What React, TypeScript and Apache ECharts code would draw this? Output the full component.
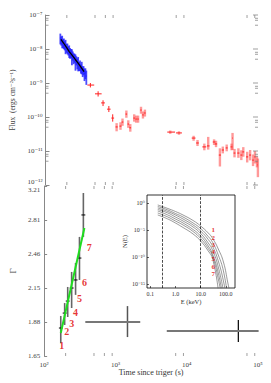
import React, { useEffect, useRef } from "react";
import * as echarts from "echarts";

const SERIF = "'Liberation Serif', 'DejaVu Serif', serif";

// ---------- top panel: flux light curve ----------
const fluxMinorTicks = [5e-8, 7e-8, 8e-8, 5e-9, 7e-9, 8e-9, 5e-10, 7e-10, 8e-10, 5e-11, 7e-11, 8e-11, 5e-12, 7e-12, 8e-12];
const fluxMajorTicks = [1e-7, 1e-8, 1e-9, 1e-10, 1e-11, 1e-12];
const timeMinorTicks = [200, 500, 700, 900, 7000, 9000, 70000, 90000];

const batTime = [162, 167, 172, 177, 182, 187, 192, 198, 204, 210, 216, 222, 229, 236, 243, 250, 257, 265, 273, 281, 289, 298, 307, 316, 325, 335, 345, 355, 366, 377];
const batFlux = [2.1e-8, 1.8e-8, 1.75e-8, 1.5e-8, 1.5e-8, 1.3e-8, 1.28e-8, 1.1e-8, 1.07e-8, 9.2e-9, 9.1e-9, 7.9e-9, 7.7e-9, 6.6e-9, 6.5e-9, 5.5e-9, 5.6e-9, 4.6e-9, 4.7e-9, 3.9e-9, 4.0e-9, 3.2e-9, 3.4e-9, 2.7e-9, 3.0e-9, 2.3e-9, 2.4e-9, 1.9e-9, 2.0e-9, 1.6e-9];
const batErr = [0.35, 0.3, 0.4, 0.3, 0.35, 0.3, 0.45, 0.3, 0.35, 0.3, 0.4, 0.35, 0.3, 0.5, 0.3, 0.35, 0.3, 0.5, 0.3, 0.35, 0.45, 0.3, 0.35, 0.3, 0.4, 0.35, 0.3, 0.4, 0.35, 0.45];
const batModelTime = [165, 182, 200, 216, 240, 262, 290, 318, 350];
const batModelFlux = [1.92e-8, 1.45e-8, 1.08e-8, 8.4e-9, 6.4e-9, 5.0e-9, 3.8e-9, 2.9e-9, 2.15e-9];

const xrtTime = [430, 553, 649, 784, 889, 1009, 1145, 1222, 1386, 1476, 1574, 1786, 1903, 2028, 2230, 2376, 2531, 5770, 7660, 12330, 14000, 17470, 19820, 24000, 25550, 29000, 31860, 36150, 42350, 43700, 46600, 52870, 58170, 61990, 70340, 77380, 85100, 90600, 96600, 99700];
const xrtTimeMin = [390, 500, 610, 740, 850, 975, 1110, 1190, 1350, 1440, 1530, 1740, 1860, 1980, 2180, 2320, 2470, 5240, 6970, 11600, 13400, 16400, 19000, 23000, 24600, 28000, 30800, 35000, 41000, 43200, 45200, 51000, 56500, 60200, 68000, 75000, 82600, 88500, 94500, 98500];
const xrtTimeMax = [487, 620, 690, 830, 930, 1045, 1180, 1255, 1420, 1510, 1615, 1830, 1950, 2075, 2280, 2430, 2590, 6745, 8430, 13100, 14600, 18600, 20700, 25000, 26500, 30000, 33000, 37300, 43700, 44200, 48000, 54700, 60000, 63800, 72700, 79800, 87500, 92700, 98500, 100000];
const xrtFlux = [8.7e-10, 4.8e-10, 2.6e-10, 1.7e-10, 9.3e-11, 5.1e-11, 5.4e-11, 7.1e-11, 1.22e-10, 6.2e-11, 4.8e-11, 9.3e-11, 8.7e-11, 8.7e-11, 1.6e-10, 1.15e-10, 1.31e-10, 3.6e-11, 3.4e-11, 2.4e-11, 1.72e-11, 1.32e-11, 1.41e-11, 1.84e-11, 1.61e-11, 7.6e-12, 1.07e-11, 1.23e-11, 1.32e-11, 2.4e-11, 8.7e-12, 8.7e-12, 7.6e-12, 9.4e-12, 6.7e-12, 7.6e-12, 5.4e-12, 6.7e-12, 4.8e-12, 3.9e-12];
const xrtFluxMin = [7.4e-10, 4.0e-10, 2.1e-10, 1.4e-10, 7.3e-11, 3.8e-11, 4.2e-11, 5.5e-11, 9.5e-11, 4.8e-11, 3.7e-11, 7.3e-11, 6.8e-11, 6.8e-11, 1.25e-10, 9.0e-11, 1.03e-10, 3.2e-11, 3.0e-11, 2.0e-11, 1.4e-11, 1.05e-11, 1.1e-11, 1.5e-11, 1.3e-11, 3.5e-12, 8.5e-12, 9.8e-12, 1.05e-11, 1.07e-11, 6.5e-12, 6.3e-12, 5.4e-12, 6.8e-12, 4.6e-12, 5.3e-12, 3.6e-12, 4.3e-12, 3.3e-12, 1.7e-12];
const xrtFluxMax = [1.0e-9, 5.7e-10, 3.1e-10, 2.1e-10, 1.2e-10, 6.6e-11, 7.0e-11, 9.0e-11, 1.55e-10, 8.0e-11, 6.2e-11, 1.2e-10, 1.1e-10, 1.1e-10, 2.0e-10, 1.45e-10, 1.65e-10, 4.0e-11, 3.8e-11, 2.8e-11, 2.1e-11, 1.65e-11, 2.6e-11, 2.2e-11, 2.0e-11, 1.2e-11, 1.35e-11, 1.55e-11, 1.65e-11, 3.4e-11, 1.15e-11, 1.2e-11, 1.05e-11, 1.3e-11, 9.5e-12, 1.07e-11, 7.9e-12, 1.0e-11, 7.0e-12, 6.0e-12];

// ---------- bottom panel: photon index ----------
const gammaTickLabels = ["1.65", "1.88", "2.15", "2.46", "2.81", "3.21"];
const gammaTime = [171, 194, 214, 243, 276, 313, 355];
const gammaTimeMin = [161, 182, 201, 228, 259, 294, 333];
const gammaTimeMax = [182, 207, 228, 259, 294, 333, 378];
const gammaValue = [1.841, 1.952, 2.046, 2.153, 2.222, 2.421, 2.866];
const gammaLow = [1.736, 1.863, 1.922, 1.991, 2.096, 2.222, 2.63];
const gammaHigh = [1.93, 2.03, 2.162, 2.293, 2.375, 2.63, 3.123];
const gammaLabelNames = ["1", "2", "3", "4", "5", "6", "7"];
const gammaLabelTime = [177, 207, 243, 276, 313, 367, 430];
const gammaLabelValue = [1.716, 1.813, 1.877, 1.96, 2.063, 2.204, 2.527];
const crossTime = [1476, 52970];
const crossTimeMin = [378, 5250];
const crossTimeMax = [2228, 102000];
const crossGamma = [1.885, 1.82];
const crossGammaLow = [1.777, 1.743];
const crossGammaHigh = [2.006, 1.9];
const fitTime = [171, 367];
const fitGamma = [1.806, 2.723];

// ---------- inset: spectra ----------
const specEnergy = [0.2, 0.5, 1, 2, 5, 10, 20, 30, 50, 80, 120, 150];
const specN1 = [0.427, 0.0957, 0.0267, 6.0e-3, 5.74e-4, 5.51e-5, 2.78e-6, 2.67e-7, 3.03e-9, 1.19e-11, 1.53e-15, 9.1e-18];
const specN2 = [0.225, 0.0506, 0.0114, 2.55e-3, 1.98e-4, 1.9e-5, 6.25e-7, 4.84e-8, 2.35e-10, 2.55e-13, 2.6e-18];
const specN3 = [0.119, 0.0267, 6.0e-3, 1.09e-3, 8.43e-5, 6.53e-6, 1.74e-7, 8.8e-9, 1.82e-11, 3.6e-15, 1.3e-19];
const specN4 = [0.0625, 0.01406, 2.55e-3, 4.64e-4, 3.59e-5, 2.25e-6, 3.92e-8, 1.6e-9, 1.41e-12, 5.06e-17];
const specN5 = [0.033, 6.0e-3, 1.09e-3, 1.98e-4, 1.24e-5, 7.74e-7, 1.09e-8, 2.9e-10, 1.09e-13, 1.1e-18];
const specN6 = [0.01406, 2.55e-3, 4.64e-4, 8.43e-5, 5.27e-6, 2.67e-7, 3.75e-9, 1.24e-10, 8.43e-15, 1.3e-19];
const specN7 = [6.0e-3, 1.09e-3, 1.98e-4, 2.9e-5, 1.82e-6, 9.2e-8, 1.29e-9, 4.27e-11, 7.7e-17];
const specLabelEnergy = [31.6, 31.6, 31.6, 31.6, 31.6, 31.6, 31.6];
const specLabelN = [1e-5, 3.3e-7, 1.66e-8, 8.5e-10, 4.3e-11, 1.4e-12, 7.1e-14];
const xrtBandEdges = [0.3, 10];

// ---------- helpers ----------
const SUP: Record<string, string> = { "-": "\u207B", "0": "\u2070", "1": "\u00B9", "2": "\u00B2", "3": "\u00B3", "4": "\u2074", "5": "\u2075", "6": "\u2076", "7": "\u2077", "8": "\u2078", "9": "\u2079" };
const pow10 = (v: number) => "10" + String(Math.round(Math.log10(v))).split("").map((c) => SUP[c] ?? c).join("");

const G0 = parseFloat(gammaTickLabels[0]);
const GSTEP = Math.log10(parseFloat(gammaTickLabels[gammaTickLabels.length - 1]) / G0) / (gammaTickLabels.length - 1);
const gy = (g: number) => Math.log10(g / G0) / GSTEP;

type St = { v: string; vw: number; h: string; hw: number };
function errorBars(rows: number[][], xi: number, yi: number, styleFor: (x: number) => St, z = 3) {
  return {
    type: "custom",
    xAxisIndex: xi,
    yAxisIndex: yi,
    clip: false,
    z,
    silent: true,
    encode: { x: 0, y: 3 },
    data: rows,
    renderItem: (_p: any, api: any) => {
      const x = api.value(0);
      const y = api.value(3);
      const a = api.coord([x, api.value(4)]);
      const b = api.coord([x, api.value(5)]);
      const c = api.coord([api.value(1), y]);
      const d = api.coord([api.value(2), y]);
      const s = styleFor(x);
      return {
        type: "group",
        children: [
          { type: "line", shape: { x1: a[0], y1: a[1], x2: b[0], y2: b[1] }, style: { stroke: s.v, lineWidth: s.vw } },
          { type: "line", shape: { x1: c[0], y1: c[1], x2: d[0], y2: d[1] }, style: { stroke: s.h, lineWidth: s.hw } },
        ],
      };
    },
  };
}

function tickMarks(points: number[][], xi: number, yi: number, size: number[], offset: number[]) {
  return {
    type: "scatter",
    xAxisIndex: xi,
    yAxisIndex: yi,
    data: points,
    symbol: "rect",
    symbolSize: size,
    symbolOffset: offset,
    itemStyle: { color: "#888" },
    silent: true,
    clip: false,
    z: 4,
  };
}

const labelText = { fontFamily: SERIF, fontSize: 7, color: "#444" };

export default function App() {
  const ref = useRef<HTMLDivElement>(null);
  useEffect(() => {
    if (!ref.current) return;
    const chart = echarts.init(ref.current, null, { renderer: "svg" });

    const batRows = batTime.map((t, i) => [t, t * 0.987, t * 1.013, batFlux[i], batFlux[i] * (1 - batErr[i]), batFlux[i] * (1 + batErr[i])]);
    const xrtRows = xrtTime.map((t, i) => [t, xrtTimeMin[i], xrtTimeMax[i], xrtFlux[i], xrtFluxMin[i], xrtFluxMax[i]]);
    const gammaRows = gammaTime.map((t, i) => [t, gammaTimeMin[i], gammaTimeMax[i], gy(gammaValue[i]), gy(gammaLow[i]), gy(gammaHigh[i])]);
    const crossRows = crossTime.map((t, i) => [t, crossTimeMin[i], crossTimeMax[i], gy(crossGamma[i]), gy(crossGammaLow[i]), gy(crossGammaHigh[i])]);
    const specs = [specN1, specN2, specN3, specN4, specN5, specN6, specN7];
    const lastGamma = gammaTickLabels.length - 1;

    const option: any = {
      animation: false,
      backgroundColor: "#fff",
      grid: [
        { left: 40, top: 15, width: 218, height: 170 },
        { left: 40, top: 186, width: 218, height: 170 },
        { left: 147, top: 195, width: 88, height: 93, show: true, borderColor: "#000", borderWidth: 0.8, backgroundColor: "#fff" },
      ],
      xAxis: [
        { gridIndex: 0, type: "log", min: 100, max: 100000, axisLine: { show: false }, axisTick: { show: false }, axisLabel: { show: false }, splitLine: { show: false } },
        {
          gridIndex: 1, type: "log", min: 100, max: 100000,
          axisLine: { show: false }, axisTick: { show: false }, splitLine: { show: false },
          axisLabel: { ...labelText, formatter: pow10, margin: 5 },
          name: "Time since triger (s)", nameLocation: "middle", nameGap: 12,
          nameTextStyle: { fontFamily: SERIF, fontSize: 8, color: "#333" },
        },
        {
          gridIndex: 2, type: "log", min: 0.075, max: 230,
          axisLine: { show: false }, splitLine: { show: false },
          axisTick: { inside: true, length: 2, lineStyle: { color: "#000", width: 0.6 } },
          axisLabel: { fontFamily: SERIF, fontSize: 6, color: "#333", margin: 3, showMinLabel: false, showMaxLabel: false, formatter: (v: number) => v.toFixed(1) },
          name: "E (keV)", nameLocation: "middle", nameGap: 10,
          nameTextStyle: { fontFamily: SERIF, fontSize: 6.5, color: "#333" },
        },
      ],
      yAxis: [
        {
          gridIndex: 0, type: "log", min: 1e-12, max: 1e-7,
          axisLine: { show: true, lineStyle: { color: "#888" } },
          axisTick: { inside: true, length: 4, lineStyle: { color: "#888" } },
          axisLabel: {
            ...labelText, margin: 3,
            formatter: (v: number) => (Math.round(Math.log10(v)) === -12 ? "{lo|" + pow10(v) + "}" : pow10(v)),
            rich: { lo: { fontFamily: SERIF, fontSize: 7, color: "#444", padding: [0, 0, 7, 0] } },
          },
          splitLine: { show: false },
          name: "Flux  (ergs cm\u207B\u00B2s\u207B\u00B9)", nameLocation: "middle", nameGap: 25,
          nameTextStyle: { fontFamily: SERIF, fontSize: 7.5, color: "#444" },
        },
        {
          gridIndex: 1, type: "value", min: 0, max: 5, interval: 1,
          axisLine: { show: true, lineStyle: { color: "#888" } },
          axisTick: { inside: true, length: 3, lineStyle: { color: "#888" } },
          axisLabel: {
            ...labelText, margin: 4,
            formatter: (v: number) => (Math.round(v) === lastGamma ? "{hi|" + gammaTickLabels[lastGamma] + "}" : gammaTickLabels[Math.round(v)]),
            rich: { hi: { fontFamily: SERIF, fontSize: 7, color: "#444", padding: [7, 0, 0, 0] } },
          },
          splitLine: { show: false },
          name: "\u0393", nameLocation: "middle", nameGap: 25,
          nameTextStyle: { fontFamily: SERIF, fontSize: 9, color: "#444" },
        },
        {
          gridIndex: 2, type: "log", logBase: 100000, min: 1.8e-16, max: 30,
          axisLine: { show: false }, splitLine: { show: false },
          axisTick: { inside: true, length: 2, lineStyle: { color: "#000", width: 0.6 } },
          axisLabel: { fontFamily: SERIF, fontSize: 6, color: "#333", margin: 2, showMinLabel: false, showMaxLabel: false, formatter: pow10 },
          name: "N(E)", nameLocation: "middle", nameGap: 18,
          nameTextStyle: { fontFamily: SERIF, fontSize: 6.5, color: "#333" },
        },
      ],
      series: [
        errorBars(batRows, 0, 0, () => ({ v: "rgba(30,30,255,0.8)", vw: 1.8, h: "rgba(30,30,255,0.9)", hw: 1 })),
        {
          type: "line", xAxisIndex: 0, yAxisIndex: 0, z: 5,
          data: batModelTime.map((t, i) => [t, batModelFlux[i]]),
          showSymbol: false, lineStyle: { color: "#000", width: 1.3 }, silent: true,
        },
        errorBars(xrtRows, 0, 0, (x) => (x < 1000
          ? { v: "#ff2020", vw: 1, h: "#ff2020", hw: 1 }
          : { v: "rgba(255,70,70,0.55)", vw: 2.4, h: "#ff1a1a", hw: 1 })),
        tickMarks(timeMinorTicks.map((t) => [t, 1e-7]), 0, 0, [1, 3], [0, 1.5]),
        tickMarks(timeMinorTicks.map((t) => [t, 1e-12]), 0, 0, [1, 3], [0, -1.5]),
        tickMarks(fluxMinorTicks.map((f) => [100, f]), 0, 0, [3, 1], [1.5, 0]),
        tickMarks(fluxMinorTicks.map((f) => [100000, f]), 0, 0, [3, 1], [-1.5, 0]),
        tickMarks(fluxMajorTicks.map((f) => [100000, f]), 0, 0, [5, 1], [-2.5, 0]),
        tickMarks(timeMinorTicks.map((t) => [t, 5]), 1, 1, [1, 3], [0, 1.5]),
        tickMarks(timeMinorTicks.map((t) => [t, 0]), 1, 1, [1, 3], [0, -1.5]),
        errorBars(gammaRows, 1, 1, () => ({ v: "#666", vw: 1.6, h: "#000", hw: 1 })),
        errorBars(crossRows, 1, 1, (x) => (x < 5000
          ? { v: "#555", vw: 1.5, h: "#777", hw: 2 }
          : { v: "#000", vw: 1.2, h: "#777", hw: 2 })),
        {
          type: "line", xAxisIndex: 1, yAxisIndex: 1, z: 5,
          data: fitTime.map((t, i) => [t, gy(fitGamma[i])]),
          showSymbol: false, lineStyle: { color: "#1fdc1f", width: 2 }, silent: true,
        },
        {
          type: "scatter", xAxisIndex: 1, yAxisIndex: 1, z: 6, symbolSize: 0, silent: true, clip: false,
          data: gammaLabelNames.map((n, i) => ({ name: n, value: [gammaLabelTime[i], gy(gammaLabelValue[i])] })),
          label: { show: true, position: "inside", formatter: "{b}", color: "#e00000", fontFamily: SERIF, fontWeight: "bold", fontSize: 10 },
        },
        ...specs.map((arr, k) => ({
          type: "line", xAxisIndex: 2, yAxisIndex: 2, z: 3, smooth: true,
          data: arr.map((n, i) => [specEnergy[i], n]),
          showSymbol: false, silent: true,
          lineStyle: { color: "#555", width: 0.6 },
          ...(k === 0 ? {
            markLine: {
              silent: true, symbol: "none", label: { show: false },
              lineStyle: { color: "#000", type: "dashed", width: 0.7 },
              data: xrtBandEdges.map((e) => ({ xAxis: e })),
            },
          } : {}),
        })),
        {
          type: "scatter", xAxisIndex: 2, yAxisIndex: 2, z: 6, symbolSize: 0, silent: true, clip: false,
          data: gammaLabelNames.map((n, i) => ({ name: n, value: [specLabelEnergy[i], specLabelN[i]] })),
          label: { show: true, position: "inside", formatter: "{b}", color: "#e00000", fontFamily: SERIF, fontWeight: "bold", fontSize: 7, lineHeight: 7 },
        },
      ],
    };
    chart.setOption(option);
    return () => chart.dispose();
  }, []);
  return <div ref={ref} style={{ position: "absolute", left: 0, top: 0, width: 271, height: 383 }} />;
}
